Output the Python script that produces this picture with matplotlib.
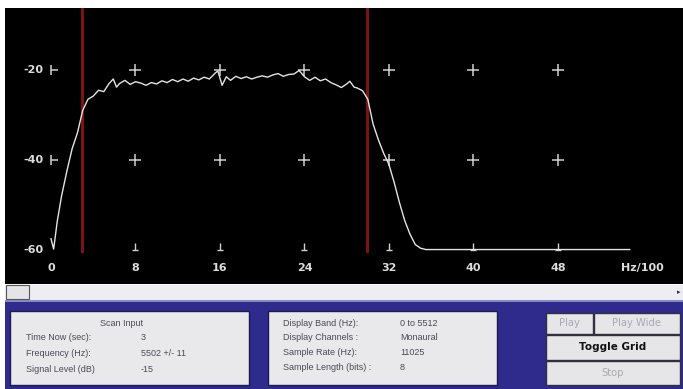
import matplotlib
matplotlib.use("Agg")
import matplotlib.pyplot as plt
from matplotlib.patches import Rectangle

# ---------------- data ----------------
freq = [0.0, 0.25, 0.6, 1.0, 1.5, 2.0, 2.5, 3.0, 3.5, 4.0, 4.5, 5.0, 5.5, 5.9, 6.2, 6.5,
        7.0, 7.5, 8.0, 8.5, 9.0, 9.5, 10.0, 10.5, 11.0, 11.5, 12.0, 12.5, 13.0,
        13.5, 14.0, 14.5, 15.0, 15.5, 15.8, 16.2, 16.6, 17.0, 17.5, 18.0, 18.5,
        19.0, 19.5, 20.0, 20.5, 21.0, 21.5, 22.0, 22.5, 23.0, 23.5, 24.0, 24.5,
        25.0, 25.5, 26.0, 26.5, 27.0, 27.5, 28.0, 28.3, 28.7, 29.0, 29.5, 30.0,
        30.5, 31.0, 31.5, 32.0, 32.5, 33.0, 33.5, 34.0, 34.5, 35.0, 35.5, 40.0,
        45.0, 50.0, 54.8]
level = [-57.5, -59.8, -53.5, -48.0, -42.5, -37.5, -34.0, -29.0, -26.5, -25.8,
         -24.5, -24.8, -23.0, -22.0, -23.8, -23.0, -22.3, -23.2, -22.6, -22.9, -23.4,
         -22.8, -23.1, -22.4, -22.8, -22.1, -22.6, -22.0, -22.5, -21.8, -22.2,
         -21.6, -22.0, -20.8, -20.2, -23.4, -21.5, -22.3, -21.4, -21.9, -21.5,
         -22.0, -21.6, -21.3, -21.6, -21.1, -20.8, -21.4, -21.0, -20.9, -20.1,
         -21.5, -22.3, -21.6, -22.4, -22.0, -22.8, -23.3, -23.9, -23.1, -22.5,
         -23.8, -24.0, -24.6, -26.5, -32.0, -35.5, -38.5, -41.0, -45.0, -49.5,
         -53.5, -56.5, -58.8, -59.6, -59.9, -59.9, -59.9, -59.9, -59.9]
band_edges = [2.95, 29.9]
x_ticks = [0, 8, 16, 24, 32, 40, 48]
x_tick_labels = ["0", "8", "16", "24", "32", "40", "48"]
x_unit = "Hz/100"
y_ticks = [-20, -40, -60]
y_tick_labels = ["-20", "-40", "-60"]

scan_labels = ["Time Now (sec):", "Frequency (Hz):", "Signal Level (dB)"]
scan_values = ["3", "5502 +/- 11", "-15"]
disp_labels = ["Display Band (Hz):", "Display Channels :", "Sample Rate (Hz):", "Sample Length (bits) :"]
disp_values = ["0 to 5512", "Monaural", "11025", "8"]

W, H = 683, 389
fig = plt.figure(figsize=(W / 100, H / 100), dpi=100)
fig.patch.set_facecolor("white")

# ---------------- UI background (pixel coords) ----------------
bg = fig.add_axes([0, 0, 1, 1])
bg.set_xlim(0, W)
bg.set_ylim(H, 0)
bg.axis("off")
blue = "#2e2b8c"
bg.add_patch(Rectangle((0, 300), W, 89, facecolor=blue, edgecolor="none"))
bg.add_patch(Rectangle((0, 299), W, 3, facecolor="#8c88c8", edgecolor="none"))
# scrollbar
bg.add_patch(Rectangle((5, 285), W - 5, 15, facecolor="#ededf2", edgecolor="none"))
bg.add_patch(Rectangle((6, 285), 23, 14, facecolor="#e4e4e8", edgecolor="#555555", lw=0.8))
bg.text(679, 292, "▸", color="#333333", fontsize=5, ha="center", va="center")
bg.add_patch(Rectangle((0, 0), 5, H, facecolor="white", edgecolor="none"))

panel_c = "#e9e9ec"
txt_c = "#4a4a55"
bg.add_patch(Rectangle((10, 311), 239, 74, facecolor=panel_c, edgecolor="#1a1a50", lw=1))
bg.add_patch(Rectangle((268, 311), 229, 74, facecolor=panel_c, edgecolor="#1a1a50", lw=1))
bg.text(122, 323, "Scan Input", fontsize=6.5, color=txt_c, ha="center", va="center",
        family="Liberation Sans")
for i, (lab, val) in enumerate(zip(scan_labels, scan_values)):
    yy = 338 + i * 15.5
    bg.text(26, yy, lab, fontsize=6.5, color=txt_c, va="center", family="Liberation Sans")
    bg.text(141, yy, val, fontsize=6.5, color=txt_c, va="center", family="Liberation Sans")
for i, (lab, val) in enumerate(zip(disp_labels, disp_values)):
    yy = 323 + i * 14.8
    bg.text(283, yy, lab, fontsize=6.5, color=txt_c, va="center", family="Liberation Sans")
    bg.text(400, yy, val, fontsize=6.5, color=txt_c, va="center", family="Liberation Sans")

# buttons
btn_c = "#e6e6e9"
buttons = [((546, 313, 47, 21), "Play", "#a8a8b0", "normal"),
           ((594, 313, 86, 21), "Play Wide", "#a8a8b0", "normal"),
           ((546, 335, 134, 25), "Toggle Grid", "#111111", "bold"),
           ((546, 361, 134, 24), "Stop", "#a8a8b0", "normal")]
for (x0, y0, w, h), lab, col, wt in buttons:
    bg.add_patch(Rectangle((x0, y0), w, h, facecolor=btn_c, edgecolor="#303040", lw=1))
    bg.text(x0 + w / 2, y0 + h / 2, lab, fontsize=7.5 if wt == "bold" else 7.2, color=col,
            fontweight=wt, ha="center", va="center", family="DejaVu Sans")

# ---------------- spectrum plot ----------------
px_x0, px_per_x = 51.0, 10.56
px_y20, px_per_db = 70.0, 4.5
left_px, right_px, top_px, bot_px = 5, W, 8, 284
xl = ((left_px - px_x0) / px_per_x, (right_px - px_x0) / px_per_x)
yl = (-20 - (bot_px - px_y20) / px_per_db, -20 + (px_y20 - top_px) / px_per_db)

ax = fig.add_axes([left_px / W, (H - bot_px) / H, (right_px - left_px) / W, (bot_px - top_px) / H])
ax.set_facecolor("black")
ax.set_xlim(*xl)
ax.set_ylim(*yl)
ax.set_xticks([])
ax.set_yticks([])
for s in ax.spines.values():
    s.set_visible(False)

grid_c = "#d0d0d0"
# grid crosses
for xv in x_ticks[1:]:
    for yv in y_ticks[:-1]:
        ax.plot([xv], [yv], marker="+", ms=9, mew=1.1, color=grid_c, zorder=2)
    ax.plot([xv], [y_ticks[-1]], marker=2, ms=5, mew=1.0, color=grid_c, zorder=2)
    ax.plot([xv], [y_ticks[-1]], marker="_", ms=5, mew=1.0, color=grid_c, zorder=2)
for yv in y_ticks[:-1]:
    ax.plot([x_ticks[0]], [yv], marker="|", ms=7, mew=1.1, color=grid_c, zorder=2)
    ax.plot([x_ticks[0]], [yv], marker=1, ms=5, mew=1.1, color=grid_c, zorder=2)

# band edge markers
for xe in band_edges:
    ax.plot([xe, xe], [yl[1] - 0.3, -60.2], color="#7a1414", lw=2.2, zorder=3)

# spectrum trace
ax.plot(freq, level, color="#e4e4e4", lw=1.0, zorder=4)

# tick labels
for xv, lab in zip(x_ticks, x_tick_labels):
    ax.text(xv, -63.9, lab, color="#dcdcdc", fontsize=8, fontweight="bold",
            ha="center", va="center", family="DejaVu Sans")
ax.text(56.0, -63.9, x_unit, color="#dcdcdc", fontsize=8, fontweight="bold",
        ha="center", va="center", family="DejaVu Sans")
for yv, lab in zip(y_ticks, y_tick_labels):
    ax.text(-1.7, yv, lab, color="#dcdcdc", fontsize=8, fontweight="bold",
            ha="center", va="center", family="DejaVu Sans")

fig.savefig("out.png", dpi=100, facecolor=fig.get_facecolor())
